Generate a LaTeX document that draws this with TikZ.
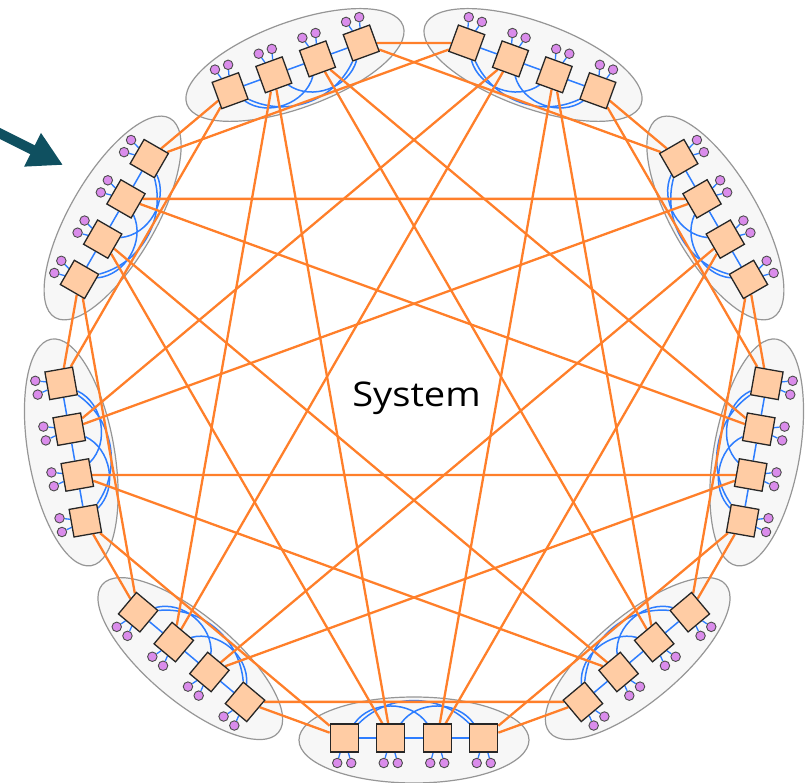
\documentclass[tikz,border=0pt]{standalone}
\usepackage{fontspec}
\newfontfamily\sysfont{Open Sans}
\usetikzlibrary{arrows.meta}
\pgfdeclarelayer{ellipses}
\pgfdeclarelayer{links}
\pgfsetlayers{ellipses,links,main}
\definecolor{globc}{RGB}{255,127,42}
\definecolor{locc}{RGB}{45,125,255}
\definecolor{routerc}{RGB}{255,204,164}
\definecolor{endc}{RGB}{218,140,235}
\definecolor{grpfill}{RGB}{247,247,247}
\definecolor{grpline}{RGB}{150,150,150}
\definecolor{arrc}{RGB}{15,80,96}
\tikzset{
  router/.style={draw=black!85, fill=routerc, line width=1.3pt, minimum size=28pt, inner sep=0pt, transform shape},
  endpt/.style={circle, draw=black!70, fill=endc, line width=0.9pt, minimum size=9.5pt, inner sep=0pt},
  grp/.style={draw=grpline, fill=grpfill, line width=1.2pt},
  glob/.style={globc, line width=2.3pt},
  loc/.style={locc, line width=1.5pt},
  elink/.style={locc, line width=1.3pt},
  bigarrow/.style={arrc, line width=10pt, -{Triangle[length=34pt,width=35pt]}}
}
\begin{document}
\begin{tikzpicture}[x=1pt,y=1pt]
\useasboundingbox (-414,-391) rectangle (398,392);
% groups, routers, endpoints
\foreach \g in {0,...,8}{
  \pgfmathsetmacro{\a}{-90+40*\g}
  \begin{scope}[rotate=\a]
    \begin{pgfonlayer}{ellipses}
      \draw[grp] (348,0) ellipse [x radius=43, y radius=115];
    \end{pgfonlayer}
    \foreach \r in {0,...,3}{
      \pgfmathsetmacro{\t}{(\r-1.5)*46.5}
      \node[router] (R-\g-\r) at (346,\t) {};
      \node[endpt] (E-\g-\r-a) at (371,{\t+7}) {};
      \node[endpt] (E-\g-\r-b) at (371,{\t-7}) {};
    }
  \end{scope}
}
% links
\begin{pgfonlayer}{links}
  \foreach \g in {0,...,8}{
    \foreach \r in {0,...,3}{
      \draw[elink] (R-\g-\r) -- (E-\g-\r-a);
      \draw[elink] (R-\g-\r) -- (E-\g-\r-b);
    }
    \foreach \i/\j in {0/1,1/2,2/3}
      \draw[loc] (R-\g-\i) -- (R-\g-\j);
    \foreach \i/\j/\b in {0/2/55,1/3/55,0/3/45}
      \draw[loc] (R-\g-\i) to[bend left=\b] (R-\g-\j);
  }
  \foreach \g in {0,...,8}{
    \foreach \p in {0,...,7}{
      \pgfmathtruncatemacro{\h}{mod(\g-\p-1+18,9)}
      \pgfmathtruncatemacro{\r}{\p/2}
      \pgfmathtruncatemacro{\s}{3-\r}
      \ifnum\h>\g
        \draw[glob] (R-\g-\r) -- (R-\h-\s);
      \fi
    }
  }
\end{pgfonlayer}
% label
\node[font=\sysfont\fontsize{34}{40}\selectfont, anchor=base, inner sep=0pt] (sys) at (2.5,-15) {\scalebox{1.12}[1]{System}};
% arrow
\coordinate (arrS) at (-421,262);
\coordinate (arrT) at (-351,227);
\draw[bigarrow] (arrS) -- (arrT);
\end{tikzpicture}
\end{document}
